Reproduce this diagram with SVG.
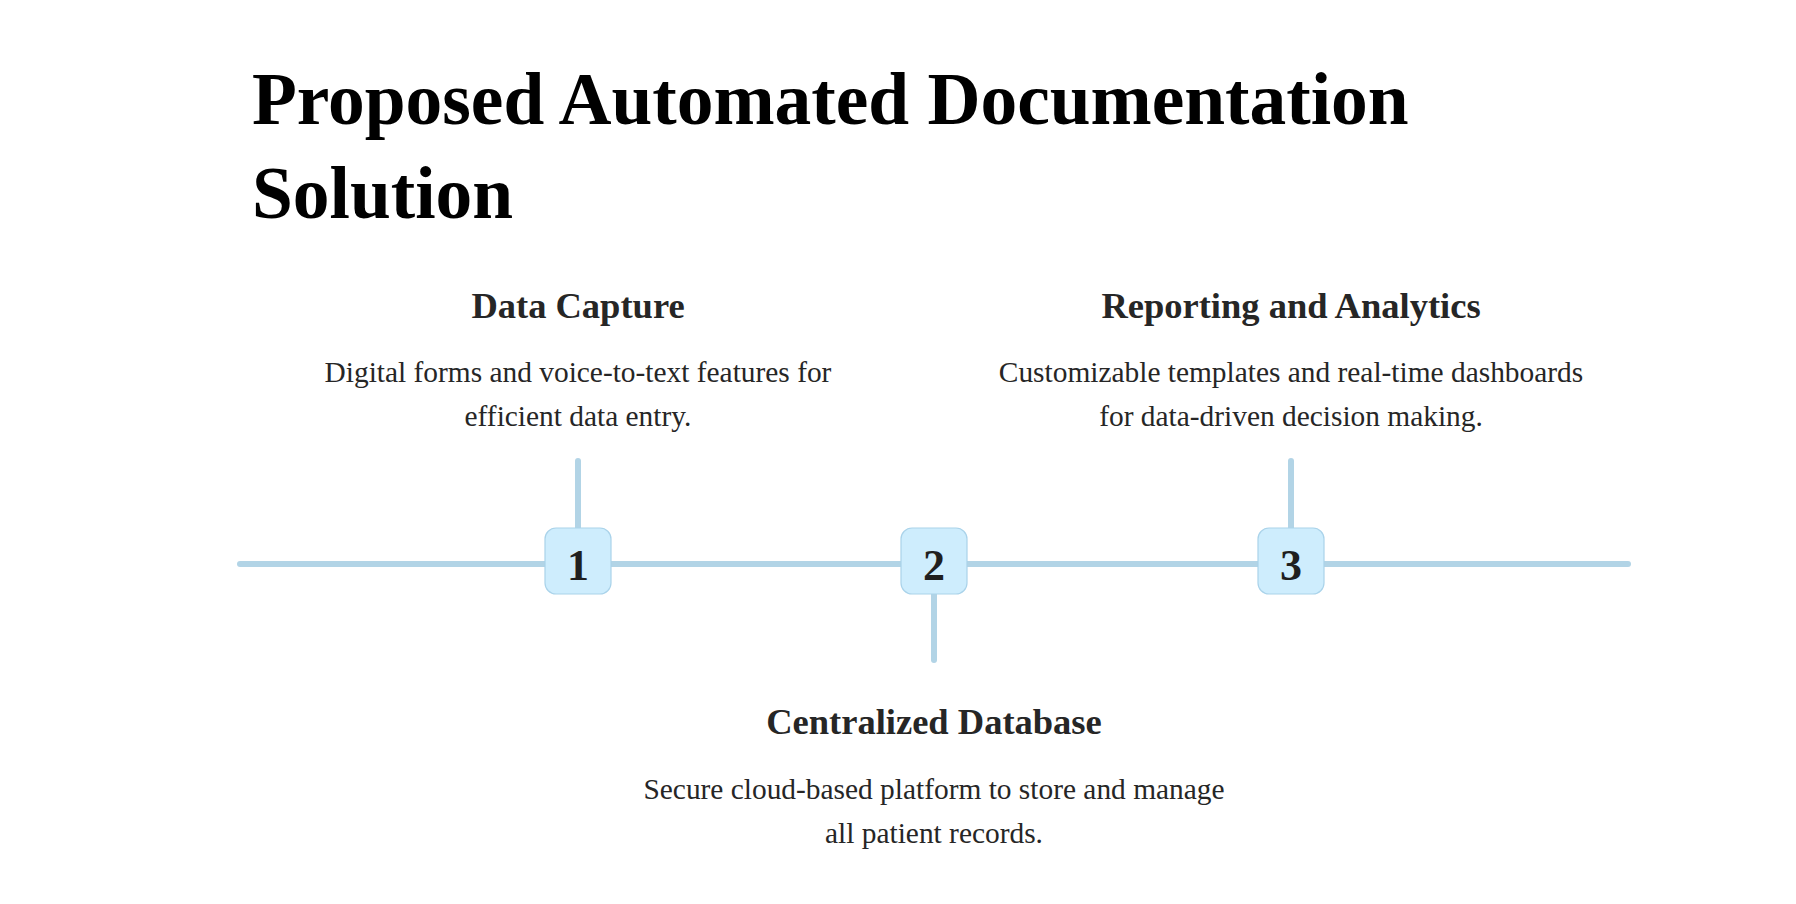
<svg xmlns="http://www.w3.org/2000/svg" width="1796" height="904" viewBox="0 0 1796 904">
<style>
.title{font-family:"Liberation Serif","Times New Roman",serif;font-weight:bold;font-size:73.4px;fill:#000}
.head{font-family:"Liberation Serif","Times New Roman",serif;font-weight:bold;font-size:36.5px;fill:#262626;text-anchor:middle}
.desc{font-family:"Liberation Serif","Times New Roman",serif;font-size:29.4px;fill:#262626;text-anchor:middle}
.num{font-family:"Liberation Serif","Times New Roman",serif;font-weight:bold;font-size:44px;fill:#1f1f1f;text-anchor:middle}
.line{stroke:#b2d4e6;stroke-width:6;stroke-linecap:round;fill:none}
.box{fill:#ceedfd;stroke:#aad3ea;stroke-width:1.2}
</style>
<rect width="1796" height="904" fill="#fff"/>
<g id="title">
<text class="title" x="252" y="124">Proposed Automated Documentation</text>
<text class="title" x="252" y="218">Solution</text>
</g>
<g id="connectors">
<line class="line" x1="240" y1="564" x2="1628" y2="564"/>
<line class="line" x1="578" y1="461" x2="578" y2="530"/>
<line class="line" x1="934" y1="592" x2="934" y2="660"/>
<line class="line" x1="1291" y1="461" x2="1291" y2="530"/>
</g>
<g id="node1">
<rect class="box" x="545" y="528" width="66" height="66" rx="11"/>
<text class="num" x="578" y="580">1</text>
<text class="head" x="578" y="318">Data Capture</text>
<text class="desc" x="578" y="382">Digital forms and voice-to-text features for</text>
<text class="desc" x="578" y="426">efficient data entry.</text>
</g>
<g id="node2">
<rect class="box" x="901" y="528" width="66" height="66" rx="11"/>
<text class="num" x="934" y="580">2</text>
<text class="head" x="934" y="734">Centralized Database</text>
<text class="desc" x="934" y="799">Secure cloud-based platform to store and manage</text>
<text class="desc" x="934" y="843">all patient records.</text>
</g>
<g id="node3">
<rect class="box" x="1258" y="528" width="66" height="66" rx="11"/>
<text class="num" x="1291" y="580">3</text>
<text class="head" x="1291" y="318">Reporting and Analytics</text>
<text class="desc" x="1291" y="382">Customizable templates and real-time dashboards</text>
<text class="desc" x="1291" y="426">for data-driven decision making.</text>
</g>
</svg>
